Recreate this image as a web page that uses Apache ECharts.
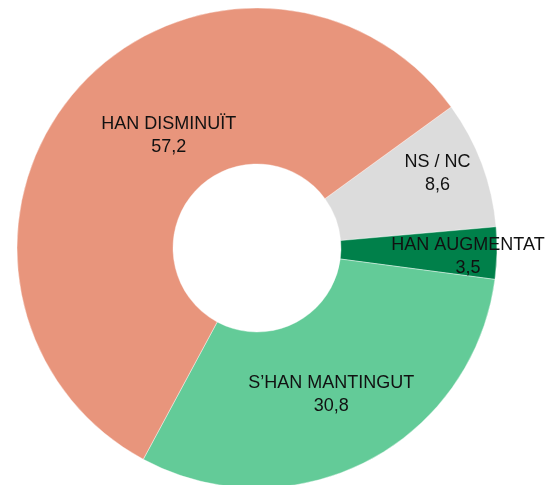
<!DOCTYPE html>
<html>
<head>
<meta charset="utf-8">
<style>
  html, body { margin: 0; padding: 0; background: #ffffff; }
  #chart { width: 551px; height: 485px; }
</style>
<script src="https://cdn.jsdelivr.net/npm/echarts@6/dist/echarts.min.js"></script>
</head>
<body>
<div id="chart"></div>
<script>
// Slice categories, in clockwise drawing order
const categories = ['NS / NC', 'HAN AUGMENTAT', 'S\u2019HAN MANTINGUT', 'HAN DISMINU\u00cfT'];
// Percentages for each slice
const values = [8.6, 3.5, 30.8, 57.2];
// Fill colour for each slice
const colors = ['#dcdcdc', '#00804a', '#63cb98', '#e8957c'];

// Label nudges away from the ring's mid-radius (dx, dy in pixels)
const labelShift = [[26, -17], [46, 5], [-1, 0], [36, -4]];

const fmt = v => v.toFixed(1).replace('.', ',');

const chart = echarts.init(document.getElementById('chart'), null, { renderer: 'canvas' });
chart.setOption({
  animation: false,
  series: [{
    type: 'pie',
    center: [257, 248],
    radius: [84, 240],
    startAngle: 36,
    clockwise: true,
    avoidLabelOverlap: false,
    silent: true,
    data: categories.map((name, i) => ({
      name: name,
      value: values[i],
      itemStyle: { color: colors[i] }
    })),
    itemStyle: { borderColor: '#ffffff', borderWidth: 0.4 },
    label: {
      show: true,
      position: 'inside',
      formatter: p => p.name + '\n' + fmt(p.value),
      color: '#111111',
      fontFamily: 'Liberation Sans, Arial, sans-serif',
      fontSize: 18,
      lineHeight: 23,
      align: 'center'
    },
    labelLine: { show: false },
    labelLayout: function (params) {
      const s = labelShift[params.dataIndex];
      return { dx: s[0], dy: s[1] };
    }
  }]
});
</script>
</body>
</html>
